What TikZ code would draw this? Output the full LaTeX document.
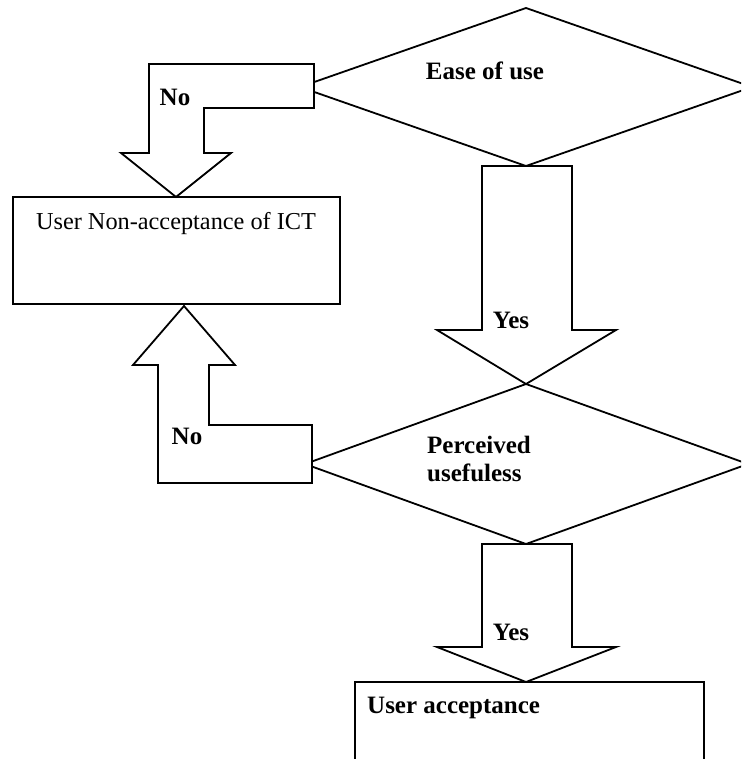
\documentclass[tikz,border=0pt]{standalone}
\usepackage{fontspec}
\setmainfont{Liberation Serif}
\begin{document}
\begin{tikzpicture}[x=1pt,y=-1pt,
  blk/.style={draw=black,line width=1.8pt,fill=white,line join=miter},
  lbl/.style={font=\fontsize{25}{28}\selectfont\bfseries,inner sep=0pt},
  txt/.style={font=\fontsize{24.3}{28}\selectfont,inner sep=0pt}]
\useasboundingbox (0,0) rectangle (741,759);
\clip (0,0) rectangle (741,759);
% decision diamonds
\draw[blk] (526,8) -- (752,87) -- (526,166) -- (300,87) -- cycle;
\draw[blk] (526,384) -- (748,464) -- (526,544) -- (305,464) -- cycle;
% boxes
\draw[blk] (13,197) rectangle (340,304);
\draw[blk] (355,682) rectangle (704,790);
% Yes arrows
\draw[blk] (482,166) -- (572,166) -- (572,330) -- (616,330) -- (526,384) -- (437,330) -- (482,330) -- cycle;
\draw[blk] (482,544) -- (572,544) -- (572,647) -- (616,647) -- (526,682) -- (437,647) -- (482,647) -- cycle;
% No arrows
\draw[blk] (314,64) -- (149,64) -- (149,153) -- (121,153) -- (176,197) -- (231,153) -- (204,153) -- (204,108) -- (314,108) -- cycle;
\draw[blk] (312,483) -- (158,483) -- (158,365) -- (133,365) -- (184,306) -- (235,365) -- (209,365) -- (209,425) -- (312,425) -- cycle;
% labels
\node[lbl] (ease) at (485,71) {Ease of use};
\node[lbl] (no1) at (175,97) {No};
\node[txt] (nonacc) at (176,224) {User Non-acceptance of ICT};
\node[lbl] (yes1) at (511,320) {Yes};
\node[lbl] (no2) at (187,436) {No};
\node[lbl,anchor=west,align=left] (perc) at (427,459) {Perceived\\usefuless};
\node[lbl] (yes2) at (511,632) {Yes};
\node[lbl,anchor=west] (acc) at (367,708) {User acceptance};
\end{tikzpicture}
\end{document}
